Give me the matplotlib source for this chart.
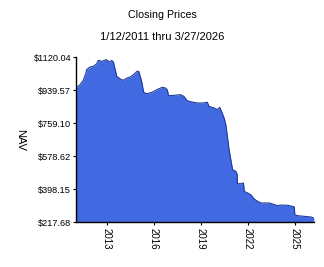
import matplotlib
matplotlib.use("Agg")
import matplotlib.pyplot as plt
import matplotlib.dates as mdates
import pandas as pd

FILL_COLOR = '#4169E1'
EDGE_COLOR = '#1F3A9E'

dates = [
    '2011-01-12', '2011-04-15', '2011-07-01', '2011-09-01', '2011-09-15', '2011-12-05',
    '2012-02-20', '2012-05-10', '2012-06-15', '2012-09-05', '2012-12-15', '2013-03-01',
    '2013-04-25', '2013-06-05', '2013-07-15', '2013-08-20', '2013-11-10', '2014-01-25',
    '2014-04-15', '2014-07-01', '2014-09-15', '2014-12-05', '2015-01-15', '2015-02-20',
    '2015-04-01', '2015-05-10', '2015-07-25', '2015-11-20', '2016-03-15', '2016-07-15',
    '2016-10-01', '2016-11-10', '2016-12-15', '2017-04-15', '2017-09-15', '2017-12-05',
    '2018-02-20', '2018-05-10', '2018-10-15', '2019-02-10', '2019-06-05', '2019-07-15',
    '2019-11-10', '2020-01-25', '2020-03-20', '2020-05-01', '2020-07-01', '2020-08-10',
    '2020-09-15', '2020-10-25', '2020-12-05', '2021-01-15', '2021-04-01', '2021-05-01',
    '2021-05-10', '2021-07-25', '2021-09-25', '2021-10-15', '2022-01-01', '2022-03-15',
    '2022-06-05', '2022-08-20', '2022-11-10', '2023-01-25', '2023-05-20', '2023-08-10',
    '2023-12-05', '2024-02-20', '2024-07-25', '2024-11-20', '2024-12-28', '2025-01-05',
    '2025-03-15', '2025-08-20', '2026-01-25', '2026-03-27',
]
nav = [
    950.5, 968.7, 992.4, 1032.5, 1050.8, 1065.3,
    1069.0, 1083.6, 1101.8, 1096.3, 1105.5, 1092.7,
    1101.8, 1090.9, 1050.8, 1014.3, 999.7, 992.4,
    1005.2, 1010.7, 1023.4, 1041.6, 1041.6, 1014.3,
    977.8, 926.8, 919.5, 926.8, 941.4, 954.1,
    950.5, 941.4, 908.5, 910.4, 914.0, 904.9,
    881.2, 875.8, 868.5, 868.5, 872.1, 850.2,
    841.1, 832.0, 844.8, 822.9, 786.4, 750.0,
    686.2, 613.4, 558.6, 503.9, 494.8, 480.0,
    427.3, 427.3, 431.0, 385.4, 376.3, 367.1,
    343.5, 330.8, 321.6, 321.6, 321.6, 316.1,
    307.0, 310.6, 308.8, 303.3, 300.0, 257.8,
    252.3, 248.6, 245.0, 239.0,
]

y_ticks = [217.68, 398.15, 578.62, 759.10, 939.57, 1120.04]
x_tick_years = [2013, 2016, 2019, 2022, 2025]

plt.rcParams['font.family'] = ['Liberation Sans', 'DejaVu Sans']

x = pd.to_datetime(dates)

fig = plt.figure(figsize=(3.24, 2.67), dpi=100)
ax = fig.add_axes([0.2346, 0.1685, 0.734, 0.618])

ax.fill_between(x, nav, y_ticks[0], color=FILL_COLOR, linewidth=0)
ax.plot(x, nav, color=EDGE_COLOR, linewidth=0.8)

ax.set_xlim(x[0], x[-1])
ax.set_ylim(y_ticks[0], y_ticks[-1])
ax.set_yticks(y_ticks)
ax.set_yticklabels(['${:.2f}'.format(v) for v in y_ticks])
ax.set_xticks([pd.Timestamp('{}-01-01'.format(y)) for y in x_tick_years])
ax.xaxis.set_major_formatter(mdates.DateFormatter('%Y'))
for label in ax.get_xticklabels():
    label.set_rotation(270)

ax.spines['top'].set_visible(False)
ax.spines['right'].set_visible(False)
ax.spines['left'].set_linewidth(1)
ax.spines['bottom'].set_linewidth(1)
ax.tick_params(axis='y', labelsize=6.6, length=2, width=0.8, pad=1.5)
ax.tick_params(axis='x', labelsize=7, length=2, width=0.8, pad=2)

ax.set_ylabel('NAV', rotation=270, fontsize=8, va='center', ha='center')
ax.yaxis.set_label_coords(-0.235, 0.5)

fig.text(0.5, 1 - 15 / 267, 'Closing Prices', ha='center', va='center', fontsize=7.7)
fig.text(0.5, 1 - 37 / 267, '1/12/2011 thru 3/27/2026', ha='center', va='center', fontsize=8)

fig.savefig('out.png', dpi=100)
